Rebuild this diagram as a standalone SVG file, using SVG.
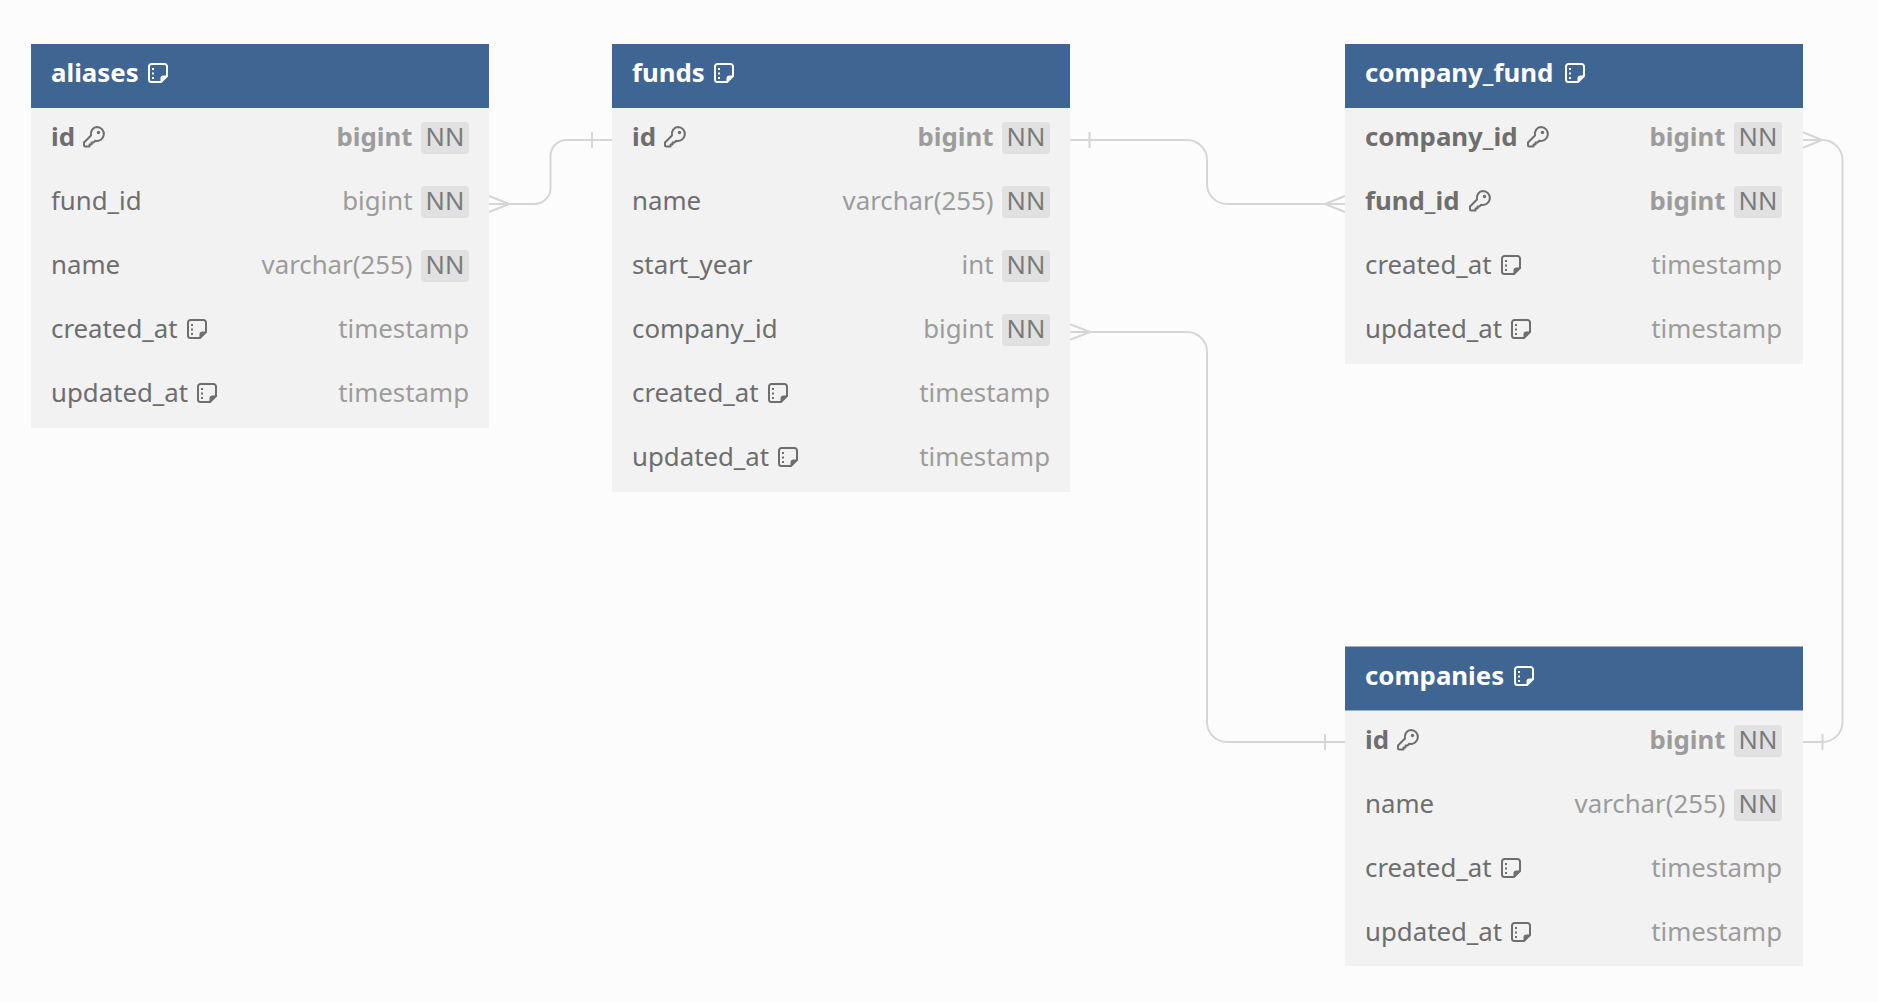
<svg xmlns="http://www.w3.org/2000/svg" width="1878" height="1002" viewBox="0 0 1878 1002">
<style>
text{font-family:"Noto Sans","Open Sans",sans-serif;font-size:25.800px}
.head{fill:#3f6592}
.body{fill:#f2f2f2}
.title{fill:#fff;font-weight:700}
.col{fill:#6e6e6e}
.pk{font-weight:700}
.type{fill:#9c9c9c;text-anchor:end}
.badge{fill:#e1e1e1}
.nn{fill:#7a7a7a;text-anchor:middle;font-size:25.500px}
.wire{fill:none;stroke:#d6d6d6;stroke-width:2}
.ic{color:#6e6e6e}
.icw{color:#fff}
</style>
<defs>
<g id="note">
<path d="M3.5 1H16.5A2.5 2.5 0 0 1 19 3.5V13L13 19H3.5A2.5 2.5 0 0 1 1 16.500V3.500A2.500 2.500 0 0 1 3.500 1Z" fill="none" stroke="currentColor" stroke-width="2"/>
<path d="M19 12.500H15.500A3 3 0 0 0 12.500 15.500V19.500Z" fill="currentColor"/>
<path d="M5 5V7M5 9.500V11.500M5 14V16" fill="none" stroke="currentColor" stroke-width="2"/>
</g>
<g id="key">
<path d="M14 1A7 7 0 1 1 12.200 14.800L10.500 16.500H8.500V18.500H6.500V20.500H2.500A1.500 1.500 0 0 1 1 19V16.500L8 9.500C7.200 5 10 1 14 1Z" fill="none" stroke="currentColor" stroke-width="2" stroke-linejoin="round"/>
<circle cx="15.500" cy="6.500" r="1.700" fill="currentColor"/>
</g>
</defs>
<rect width="1878" height="1002" fill="#fcfcfc"/>
<g id="connectors" class="wire">
<path d="M489 204H534.500A16 16 0 0 0 550.500 188V156A16 16 0 0 1 566.500 140H612"/>
<path d="M509 204L489 196M509 204L489 212M592 132V148"/>
<path d="M1069.500 140H1187A20 20 0 0 1 1207 160V184A20 20 0 0 0 1227 204H1345"/>
<path d="M1325 204L1345 196M1325 204L1345 212M1089.500 132V148"/>
<path d="M1069.500 332H1187A20 20 0 0 1 1207 352V722A20 20 0 0 0 1227 742H1345"/>
<path d="M1090 332L1069.500 324M1090 332L1069.500 340M1325 734V750"/>
<path d="M1802.500 140H1822.500A20 20 0 0 1 1842.500 160V722A20 20 0 0 1 1822.500 742H1802.500"/>
<path d="M1822 140L1802.500 132M1822 140L1802.500 148M1822.500 734V750"/>
</g>
<g id="aliases">
<rect class="body" x="31" y="108" width="458" height="320"/>
<rect class="head" x="31" y="44" width="458" height="64"/>
<text class="title" x="51" y="81.500">aliases</text><use href="#note" x="148" y="63" class="icw"/>
<text class="col pk" x="51" y="145.500">id</text><use href="#key" x="83" y="126" class="ic"/>
<text class="type pk" x="412.500" y="145.500">bigint</text><rect class="badge" x="421" y="122" width="48" height="32" rx="4"/><text class="nn" x="445" y="145.500">NN</text>
<text class="col" x="51" y="209.500">fund_id</text>
<text class="type" x="412.500" y="209.500">bigint</text><rect class="badge" x="421" y="186" width="48" height="32" rx="4"/><text class="nn" x="445" y="209.500">NN</text>
<text class="col" x="51" y="273.500">name</text>
<text class="type" x="412.500" y="273.500">varchar(255)</text><rect class="badge" x="421" y="250" width="48" height="32" rx="4"/><text class="nn" x="445" y="273.500">NN</text>
<text class="col" x="51" y="337.500">created_at</text><use href="#note" x="187" y="319" class="ic"/>
<text class="type" x="469" y="337.500">timestamp</text>
<text class="col" x="51" y="401.500">updated_at</text><use href="#note" x="197" y="383" class="ic"/>
<text class="type" x="469" y="401.500">timestamp</text>
</g>
<g id="funds">
<rect class="body" x="612" y="108" width="458" height="384"/>
<rect class="head" x="612" y="44" width="458" height="64"/>
<text class="title" x="632" y="81.500">funds</text><use href="#note" x="714" y="63" class="icw"/>
<text class="col pk" x="632" y="145.500">id</text><use href="#key" x="664" y="126" class="ic"/>
<text class="type pk" x="993.500" y="145.500">bigint</text><rect class="badge" x="1002" y="122" width="48" height="32" rx="4"/><text class="nn" x="1026" y="145.500">NN</text>
<text class="col" x="632" y="209.500">name</text>
<text class="type" x="993.500" y="209.500">varchar(255)</text><rect class="badge" x="1002" y="186" width="48" height="32" rx="4"/><text class="nn" x="1026" y="209.500">NN</text>
<text class="col" x="632" y="273.500">start_year</text>
<text class="type" x="993.500" y="273.500">int</text><rect class="badge" x="1002" y="250" width="48" height="32" rx="4"/><text class="nn" x="1026" y="273.500">NN</text>
<text class="col" x="632" y="337.500">company_id</text>
<text class="type" x="993.500" y="337.500">bigint</text><rect class="badge" x="1002" y="314" width="48" height="32" rx="4"/><text class="nn" x="1026" y="337.500">NN</text>
<text class="col" x="632" y="401.500">created_at</text><use href="#note" x="768" y="383" class="ic"/>
<text class="type" x="1050" y="401.500">timestamp</text>
<text class="col" x="632" y="465.500">updated_at</text><use href="#note" x="778" y="447" class="ic"/>
<text class="type" x="1050" y="465.500">timestamp</text>
</g>
<g id="company_fund">
<rect class="body" x="1345" y="108" width="458" height="256"/>
<rect class="head" x="1345" y="44" width="458" height="64"/>
<text class="title" x="1365" y="81.500">company_fund</text><use href="#note" x="1565" y="63" class="icw"/>
<text class="col pk" x="1365" y="145.500">company_id</text><use href="#key" x="1527" y="126" class="ic"/>
<text class="type pk" x="1725.500" y="145.500">bigint</text><rect class="badge" x="1734" y="122" width="48" height="32" rx="4"/><text class="nn" x="1758" y="145.500">NN</text>
<text class="col pk" x="1365" y="209.500">fund_id</text><use href="#key" x="1469" y="190" class="ic"/>
<text class="type pk" x="1725.500" y="209.500">bigint</text><rect class="badge" x="1734" y="186" width="48" height="32" rx="4"/><text class="nn" x="1758" y="209.500">NN</text>
<text class="col" x="1365" y="273.500">created_at</text><use href="#note" x="1501" y="255" class="ic"/>
<text class="type" x="1782" y="273.500">timestamp</text>
<text class="col" x="1365" y="337.500">updated_at</text><use href="#note" x="1511" y="319" class="ic"/>
<text class="type" x="1782" y="337.500">timestamp</text>
</g>
<g id="companies">
<rect class="body" x="1345" y="710" width="458" height="256"/>
<rect class="head" x="1345" y="646.500" width="458" height="64"/>
<text class="title" x="1365" y="684.500">companies</text><use href="#note" x="1514" y="666" class="icw"/>
<text class="col pk" x="1365" y="748.500">id</text><use href="#key" x="1397" y="729" class="ic"/>
<text class="type pk" x="1725.500" y="748.500">bigint</text><rect class="badge" x="1734" y="725" width="48" height="32" rx="4"/><text class="nn" x="1758" y="748.500">NN</text>
<text class="col" x="1365" y="812.500">name</text>
<text class="type" x="1725.500" y="812.500">varchar(255)</text><rect class="badge" x="1734" y="789" width="48" height="32" rx="4"/><text class="nn" x="1758" y="812.500">NN</text>
<text class="col" x="1365" y="876.500">created_at</text><use href="#note" x="1501" y="858" class="ic"/>
<text class="type" x="1782" y="876.500">timestamp</text>
<text class="col" x="1365" y="940.500">updated_at</text><use href="#note" x="1511" y="922" class="ic"/>
<text class="type" x="1782" y="940.500">timestamp</text>
</g>
</svg>
